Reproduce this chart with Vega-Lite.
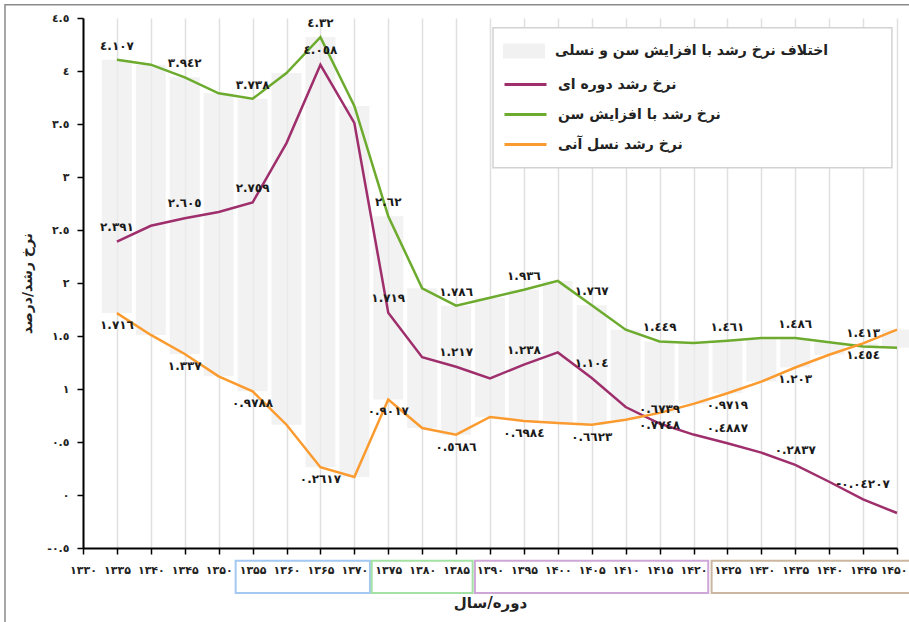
{
  "$schema": "https://vega.github.io/schema/vega-lite/v6.json",
  "width": 814,
  "height": 530,
  "autosize": {"type": "none"},
  "padding": {"left": 83, "top": 18, "right": 12, "bottom": 74},
  "background": "white",
  "config": {
    "font": "DejaVu Sans",
    "view": {"stroke": null},
    "axisX": {"tickCount": 30}
  },
  "datasets": {
    "rates": [
      {"year": 1335, "age": 4.107, "period": 2.391, "cohort": 1.716, "la": "٤.١٠٧", "lp": "٢.٣٩١", "lc": "١.٧١٦"},
      {"year": 1340, "age": 4.06, "period": 2.54, "cohort": 1.51},
      {"year": 1345, "age": 3.94, "period": 2.61, "cohort": 1.33, "la": "٣.٩٤٢", "lp": "٢.٦٠٥", "lc": "١.٣٣٧"},
      {"year": 1350, "age": 3.79, "period": 2.67, "cohort": 1.12},
      {"year": 1355, "age": 3.738, "period": 2.759, "cohort": 0.9788, "la": "٣.٧٣٨", "lp": "٢.٧٥٩", "lc": "٠.٩٧٨٨"},
      {"year": 1360, "age": 3.98, "period": 3.32, "cohort": 0.663},
      {"year": 1365, "age": 4.32, "period": 4.058, "cohort": 0.2617, "la": "٤.٣٢", "lp": "٤.٠٥٨", "lc": "٠.٢٦١٧"},
      {"year": 1370, "age": 3.67, "period": 3.51, "cohort": 0.17},
      {"year": 1375, "age": 2.63, "period": 1.719, "cohort": 0.9017, "la": "٢.٦٢", "lp": "١.٧١٩", "lc": "٠.٩٠١٧"},
      {"year": 1380, "age": 1.95, "period": 1.3, "cohort": 0.632},
      {"year": 1385, "age": 1.786, "period": 1.21, "cohort": 0.5686, "la": "١.٧٨٦", "lp": "١.٢١٧", "lc": "٠.٥٦٨٦"},
      {"year": 1390, "age": 1.86, "period": 1.1, "cohort": 0.736},
      {"year": 1395, "age": 1.936, "period": 1.23, "cohort": 0.6984, "la": "١.٩٣٦", "lp": "١.٢٣٨", "lc": "٠.٦٩٨٤"},
      {"year": 1400, "age": 2.02, "period": 1.345, "cohort": 0.68},
      {"year": 1405, "age": 1.79, "period": 1.104, "cohort": 0.6623, "la": "١.٧٦٧", "lp": "١.١٠٤", "lc": "٠.٦٦٢٣"},
      {"year": 1410, "age": 1.56, "period": 0.83, "cohort": 0.71},
      {"year": 1415, "age": 1.449, "period": 0.674, "cohort": 0.7748, "la": "١.٤٤٩", "lp": "٠.٦٧٣٩", "lc": "٠.٧٧٤٨"},
      {"year": 1420, "age": 1.434, "period": 0.57, "cohort": 0.86},
      {"year": 1425, "age": 1.456, "period": 0.4887, "cohort": 0.96, "la": "١.٤٦١", "lp": "٠.٤٨٨٧", "lc": "٠.٩٧١٩"},
      {"year": 1430, "age": 1.48, "period": 0.4, "cohort": 1.07},
      {"year": 1435, "age": 1.48, "period": 0.2837, "cohort": 1.203, "la": "١.٤٨٦", "lp": "٠.٢٨٣٧", "lc": "١.٢٠٣"},
      {"year": 1440, "age": 1.44, "period": 0.125, "cohort": 1.323},
      {"year": 1445, "age": 1.4, "period": -0.042, "cohort": 1.43, "la": "١.٤١٣", "lp": "-٠.٠٤٢٠٧", "lc": "١.٤٥٤"},
      {"year": 1450, "age": 1.39, "period": -0.17, "cohort": 1.56}
    ],
    "frame": [{"x1": 1318.5, "x2": 1456, "y1": 4.625, "y2": -1.5}],
    "legendbox": [{"x1": 1390.44, "x2": 1449.25, "y1": 4.4085, "y2": 3.088}],
    "groups": [
      {"g": "a", "x1": 1352.5, "x2": 1372.3, "y1": -0.62, "y2": -0.925},
      {"g": "b", "x1": 1372.56, "x2": 1387.44, "y1": -0.62, "y2": -0.925},
      {"g": "c", "x1": 1387.78, "x2": 1422.17, "y1": -0.62, "y2": -0.925},
      {"g": "d", "x1": 1422.67, "x2": 1454, "y1": -0.62, "y2": -0.925}
    ]
  },
  "layer": [
    {
      "data": {"name": "frame"},
      "mark": {"type": "rect", "filled": false, "color": "#8a8a8a", "strokeWidth": 1.5},
      "encoding": {
        "x": {
          "field": "x1", "type": "quantitative",
          "scale": {"domain": [1330, 1450], "nice": false, "zero": false, "padding": 0},
          "axis": {
            "title": "دوره/سال",
            "values": [1330, 1335, 1340, 1345, 1350, 1355, 1360, 1365, 1370, 1375, 1380, 1385, 1390, 1395, 1400, 1405, 1410, 1415, 1420, 1425, 1430, 1435, 1440, 1445, 1450],
            "tickCount": 30,
            "format": "d",
            "labelExpr": "replace(replace(replace(replace(replace(replace(replace(replace(replace(replace(datum.label,regexp('0','g'),'۰'),regexp('1','g'),'۱'),regexp('2','g'),'۲'),regexp('3','g'),'۳'),regexp('4','g'),'۴'),regexp('5','g'),'۵'),regexp('6','g'),'۶'),regexp('7','g'),'۷'),regexp('8','g'),'۸'),regexp('9','g'),'۹')",
            "labelAlign": {"condition": {"test": "datum.value == 1450", "value": "right"}, "value": "center"},
            "labelOffset": {"condition": {"test": "datum.value == 1450", "value": 10}, "value": 0},
            "grid": true, "gridColor": "#e0e0e0", "gridWidth": 1.5,
            "domainColor": "#000000", "domainWidth": 2,
            "tickColor": "#000000", "tickWidth": 1.5, "tickSize": 6,
            "labelFontSize": 11, "labelFontWeight": "bold", "labelColor": "#222222",
            "labelPadding": 10, "labelFlush": false, "labelOverlap": false,
            "titleFontSize": 15, "titleFontWeight": "bold", "titleColor": "#222222", "titlePadding": 20
          }
        },
        "x2": {"field": "x2"},
        "y": {
          "field": "y1", "type": "quantitative",
          "scale": {"domain": [-0.5, 4.5], "nice": false, "zero": false, "padding": 0},
          "axis": {
            "title": "نرخ رشد/درصد",
            "values": [-0.5, 0, 0.5, 1, 1.5, 2, 2.5, 3, 3.5, 4, 4.5],
            "tickCount": 20,
            "format": ".1~f",
            "labelExpr": "replace(replace(replace(replace(replace(replace(replace(replace(replace(replace(replace(datum.label,regexp('0','g'),'٠'),regexp('1','g'),'١'),regexp('2','g'),'٢'),regexp('3','g'),'٣'),regexp('4','g'),'٤'),regexp('5','g'),'٥'),regexp('6','g'),'٦'),regexp('7','g'),'٧'),regexp('8','g'),'٨'),regexp('9','g'),'٩'),regexp('−','g'),'-')",
            "grid": false,
            "domainColor": "#000000", "domainWidth": 2,
            "tickColor": "#000000", "tickWidth": 1.5, "tickSize": 6,
            "labelFontSize": 11, "labelFontWeight": "bold", "labelColor": "#222222",
            "labelPadding": 8, "labelFlush": false, "labelOverlap": false,
            "titleFontSize": 14, "titleFontWeight": "bold", "titleColor": "#222222", "titlePadding": 12
          }
        },
        "y2": {"field": "y2"}
      }
    },
    {
      "data": {"name": "rates"},
      "mark": {"type": "bar", "size": 30, "fillOpacity": 0.75},
      "encoding": {
        "x": {"field": "year", "type": "quantitative", "scale": {"domain": [1330, 1450], "nice": false, "zero": false, "padding": 0}},
        "y": {"field": "cohort", "type": "quantitative", "scale": {"domain": [-0.5, 4.5], "nice": false, "zero": false, "padding": 0}},
        "y2": {"field": "age"},
        "fill": {
          "datum": "اختلاف نرخ رشد با افزایش سن و نسلی", "type": "nominal",
          "scale": {"range": ["#eeeeee"]},
          "legend": {
            "title": null, "orient": "none", "legendX": 420, "legendY": 12, "padding": 0,
            "symbolType": "M-1,-0.36L1,-0.36L1,0.36L-1,0.36Z", "symbolSize": 1764, "symbolStrokeWidth": 0, "symbolOpacity": 0.8,
            "labelFontSize": 14, "labelFontWeight": "bold", "labelColor": "#222222", "labelOffset": 10, "labelLimit": 400
          }
        }
      }
    },
    {
      "data": {"name": "legendbox"},
      "mark": {"type": "rect", "fill": "#ffffff", "stroke": "#d2d2d2", "strokeWidth": 1.5},
      "encoding": {
        "x": {"field": "x1", "type": "quantitative", "scale": {"domain": [1330, 1450], "nice": false, "zero": false, "padding": 0}},
        "x2": {"field": "x2"},
        "y": {"field": "y1", "type": "quantitative", "scale": {"domain": [-0.5, 4.5], "nice": false, "zero": false, "padding": 0}},
        "y2": {"field": "y2"}
      }
    },
    {
      "data": {"name": "rates"},
      "mark": {"type": "line", "strokeWidth": 2.5},
      "encoding": {
        "x": {"field": "year", "type": "quantitative", "scale": {"domain": [1330, 1450], "nice": false, "zero": false, "padding": 0}},
        "y": {"field": "period", "type": "quantitative", "scale": {"domain": [-0.5, 4.5], "nice": false, "zero": false, "padding": 0}},
        "stroke": {
          "datum": "نرخ رشد دوره ای", "type": "nominal",
          "scale": {"domain": ["نرخ رشد دوره ای", "نرخ رشد با افزایش سن", "نرخ رشد نسل آنی"], "range": ["#9e2f6c", "#6dab2e", "#fb9b2f"]},
          "legend": {
            "title": null, "orient": "none", "legendX": 420, "legendY": 44, "padding": 0,
            "symbolType": "stroke", "symbolSize": 1764, "symbolStrokeWidth": 3, "rowPadding": -10,
            "labelFontSize": 14, "labelFontWeight": "bold", "labelColor": "#222222", "labelOffset": 10, "labelLimit": 400
          }
        }
      }
    },
    {
      "data": {"name": "rates"},
      "mark": {"type": "line", "strokeWidth": 2.5},
      "encoding": {
        "x": {"field": "year", "type": "quantitative", "scale": {"domain": [1330, 1450], "nice": false, "zero": false, "padding": 0}},
        "y": {"field": "age", "type": "quantitative", "scale": {"domain": [-0.5, 4.5], "nice": false, "zero": false, "padding": 0}},
        "stroke": {"datum": "نرخ رشد با افزایش سن", "type": "nominal"}
      }
    },
    {
      "data": {"name": "rates"},
      "mark": {"type": "line", "strokeWidth": 2.5},
      "encoding": {
        "x": {"field": "year", "type": "quantitative", "scale": {"domain": [1330, 1450], "nice": false, "zero": false, "padding": 0}},
        "y": {"field": "cohort", "type": "quantitative", "scale": {"domain": [-0.5, 4.5], "nice": false, "zero": false, "padding": 0}},
        "stroke": {"datum": "نرخ رشد نسل آنی", "type": "nominal"}
      }
    },
    {
      "data": {"name": "rates"},
      "transform": [{"filter": "datum.la != null"}],
      "mark": {"type": "text", "dy": -14, "fontSize": 12, "fontWeight": "bold", "color": "#1a1a1a"},
      "encoding": {
        "x": {"field": "year", "type": "quantitative", "scale": {"domain": [1330, 1450], "nice": false, "zero": false, "padding": 0}},
        "y": {"field": "age", "type": "quantitative", "scale": {"domain": [-0.5, 4.5], "nice": false, "zero": false, "padding": 0}},
        "text": {"field": "la"}
      }
    },
    {
      "data": {"name": "rates"},
      "transform": [{"filter": "datum.lp != null"}],
      "mark": {"type": "text", "dy": -15, "fontSize": 12, "fontWeight": "bold", "color": "#1a1a1a"},
      "encoding": {
        "x": {"field": "year", "type": "quantitative", "scale": {"domain": [1330, 1450], "nice": false, "zero": false, "padding": 0}},
        "y": {"field": "period", "type": "quantitative", "scale": {"domain": [-0.5, 4.5], "nice": false, "zero": false, "padding": 0}},
        "text": {"field": "lp"}
      }
    },
    {
      "data": {"name": "rates"},
      "transform": [{"filter": "datum.lc != null"}],
      "mark": {"type": "text", "dy": 12, "fontSize": 12, "fontWeight": "bold", "color": "#1a1a1a"},
      "encoding": {
        "x": {"field": "year", "type": "quantitative", "scale": {"domain": [1330, 1450], "nice": false, "zero": false, "padding": 0}},
        "y": {"field": "cohort", "type": "quantitative", "scale": {"domain": [-0.5, 4.5], "nice": false, "zero": false, "padding": 0}},
        "text": {"field": "lc"}
      }
    },
    {
      "data": {"name": "groups"},
      "mark": {"type": "rect", "filled": false, "strokeWidth": 2},
      "encoding": {
        "x": {"field": "x1", "type": "quantitative", "scale": {"domain": [1330, 1450], "nice": false, "zero": false, "padding": 0}},
        "x2": {"field": "x2"},
        "y": {"field": "y1", "type": "quantitative", "scale": {"domain": [-0.5, 4.5], "nice": false, "zero": false, "padding": 0}},
        "y2": {"field": "y2"},
        "color": {"field": "g", "type": "nominal", "scale": {"domain": ["a", "b", "c", "d"], "range": ["#a3c8f2", "#a3e2a3", "#cfa6d8", "#cbb7a0"]}, "legend": null}
      }
    }
  ]
}
